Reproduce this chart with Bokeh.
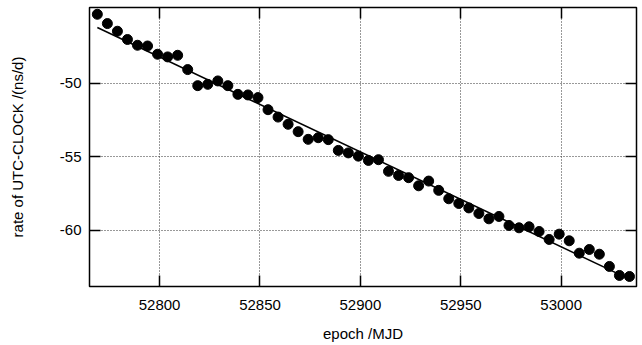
import numpy as np
from bokeh.plotting import figure
from bokeh.models import Range1d, FixedTicker, LinearAxis
from bokeh.embed import file_html
from bokeh.resources import INLINE

# epoch (MJD) of each rate estimate
mjd = [52769, 52774, 52779, 52784, 52789, 52794, 52799, 52804, 52809, 52814,
       52819, 52824, 52829, 52834, 52839, 52844, 52849, 52854, 52859, 52864,
       52869, 52874, 52879, 52884, 52889, 52894, 52899, 52904, 52909, 52914,
       52919, 52924, 52929, 52934, 52939, 52944, 52949, 52954, 52959, 52964,
       52969, 52974, 52979, 52984, 52989, 52994, 52999, 53004, 53009, 53014,
       53019, 53024, 53029, 53034]

# rate of UTC-CLOCK (ns/d)
rate = [-45.34, -45.97, -46.49, -47.05, -47.44, -47.49, -48.05, -48.23, -48.12, -49.09,
        -50.18, -50.09, -49.86, -50.18, -50.77, -50.81, -50.99, -51.81, -52.31, -52.80,
        -53.30, -53.82, -53.71, -53.84, -54.57, -54.74, -54.96, -55.25, -55.20, -55.99,
        -56.27, -56.42, -56.97, -56.65, -57.28, -57.85, -58.17, -58.47, -58.85, -59.21,
        -59.05, -59.66, -59.82, -59.75, -60.07, -60.61, -60.25, -60.70, -61.54, -61.29,
        -61.61, -62.44, -63.05, -63.12]

x_ticks = [52800, 52850, 52900, 52950, 53000]
y_ticks = [-60, -55, -50]
y_tick_labels = ["-60", "-55", "-50"]

# linear fit through the data
slope, intercept = np.polyfit(mjd, rate, 1)
fit_x = [mjd[0], mjd[-1]]
fit_y = [intercept + slope * v for v in fit_x]

FONT = "Liberation Sans"

p = figure(width=642, height=345, output_backend="svg", toolbar_location=None,
           x_range=Range1d(52765.1, 53037.5), y_range=Range1d(-63.8, -44.88),
           min_border_left=89, min_border_right=6, min_border_top=7,
           min_border_bottom=59, x_axis_label="epoch /MJD",
           y_axis_label="rate of UTC-CLOCK /(ns/d)")

p.background_fill_color = "white"
p.border_fill_color = "white"
p.outline_line_color = "black"
p.outline_line_width = 1.5

for ax, ticks in ((p.xaxis[0], x_ticks), (p.yaxis[0], y_ticks)):
    ax.ticker = FixedTicker(ticks=ticks)
    ax.axis_line_color = None
    ax.major_tick_in = 11
    ax.major_tick_out = 0
    ax.minor_tick_line_color = None
    ax.major_tick_line_color = "black"
    ax.major_tick_line_width = 1.5
    ax.major_label_text_font = FONT
    ax.major_label_text_font_size = "15px"
    ax.major_label_text_color = "black"
    ax.axis_label_text_font = FONT
    ax.axis_label_text_font_size = "15px"
    ax.axis_label_text_font_style = "normal"
    ax.axis_label_text_color = "black"

p.yaxis[0].major_label_overrides = {t: s for t, s in zip(y_ticks, y_tick_labels)}

p.xaxis[0].major_label_standoff = 13
p.xaxis[0].axis_label_standoff = 12
p.yaxis[0].major_label_standoff = 8
p.yaxis[0].axis_label_standoff = 31

# mirrored ticks on top and right (no labels)
for loc, ticks in (("above", x_ticks), ("right", y_ticks)):
    ax = LinearAxis(ticker=FixedTicker(ticks=ticks))
    ax.axis_line_color = None
    ax.major_tick_in = 11
    ax.major_tick_out = 0
    ax.minor_tick_line_color = None
    ax.major_tick_line_color = "black"
    ax.major_tick_line_width = 1.5
    ax.major_label_overrides = {t: "" for t in ticks}
    ax.major_label_standoff = 0
    p.add_layout(ax, loc)

for g, ticks in ((p.xgrid[0], x_ticks), (p.ygrid[0], y_ticks)):
    g.ticker = FixedTicker(ticks=ticks)
    g.grid_line_color = "#333333"
    g.grid_line_dash = "1 2"
    g.grid_line_width = 1

p.line(fit_x, fit_y, line_color="black", line_width=1.5)
p.scatter(mjd, rate, size=10, fill_color="black", line_color="black")

open("out.html", "w").write(file_html(p, INLINE))
